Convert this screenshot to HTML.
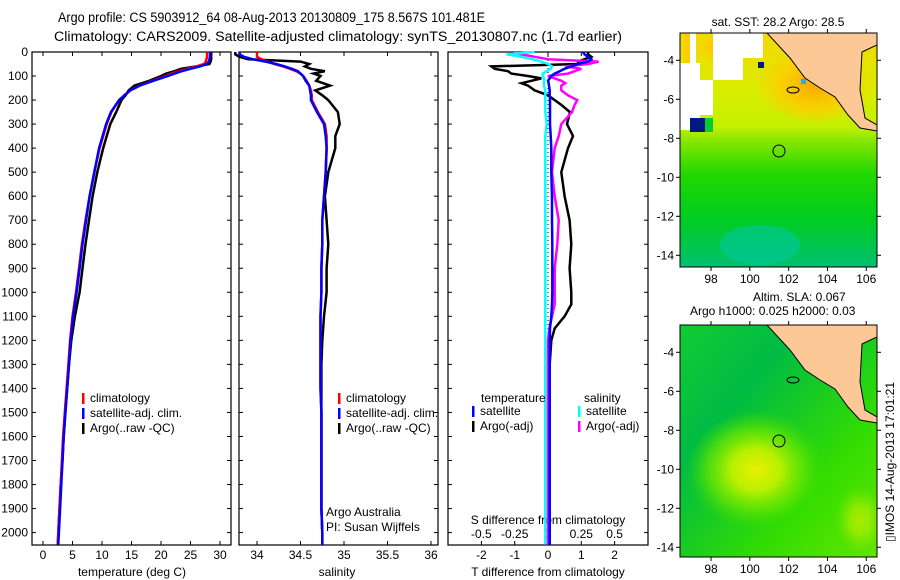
<!DOCTYPE html>
<html><head><meta charset="utf-8">
<style>
html,body{margin:0;padding:0;background:#fff;}
svg{display:block;font-family:"Liberation Sans",sans-serif;}
text{font-size:12px;fill:#000;}
</style></head>
<body>
<svg id="fig" width="900" height="580" viewBox="0 0 900 580" xmlns="http://www.w3.org/2000/svg">
  <text x="58" y="22" textLength="427" lengthAdjust="spacingAndGlyphs" style="font-size:13.5px">Argo profile: CS 5903912_64 08-Aug-2013 20130809_175 8.567S 101.481E</text>
  <text x="54" y="41" textLength="568" lengthAdjust="spacingAndGlyphs" style="font-size:13.5px">Climatology: CARS2009. Satellite-adjusted climatology: synTS_20130807.nc (1.7d earlier)</text>

  <defs>
    <linearGradient id="sstg" x1="0" y1="0" x2="0" y2="1">
      <stop offset="0" stop-color="#f4d800"/>
      <stop offset="0.25" stop-color="#d8ee00"/>
      <stop offset="0.4" stop-color="#c4f000"/>
      <stop offset="0.46" stop-color="#88e600"/>
      <stop offset="0.6" stop-color="#22d800"/>
      <stop offset="0.8" stop-color="#00cc22"/>
      <stop offset="1" stop-color="#00c070"/>
    </linearGradient>
    <radialGradient id="orng" cx="0.5" cy="0.5" r="0.5">
      <stop offset="0" stop-color="#f8a800"/>
      <stop offset="0.6" stop-color="#ffcc00" stop-opacity="0.8"/>
      <stop offset="1" stop-color="#ffcc00" stop-opacity="0"/>
    </radialGradient>
    <radialGradient id="slag" cx="0.5" cy="0.5" r="0.5">
      <stop offset="0" stop-color="#e8f000"/>
      <stop offset="0.35" stop-color="#b8f000"/>
      <stop offset="0.7" stop-color="#66e600" stop-opacity="0.7"/>
      <stop offset="1" stop-color="#33dd00" stop-opacity="0"/>
    </radialGradient>
    <linearGradient id="slabg" x1="0" y1="0" x2="1" y2="1">
      <stop offset="0" stop-color="#11cc33"/>
      <stop offset="0.3" stop-color="#00bb44"/>
      <stop offset="0.7" stop-color="#33dd00"/>
      <stop offset="1" stop-color="#66e600"/>
    </linearGradient>
    <clipPath id="m1c"><rect x="680" y="33" width="197" height="234"/></clipPath>
    <clipPath id="m2c"><rect x="680" y="325" width="197" height="232"/></clipPath>
  </defs>
  <g id="map1" clip-path="url(#m1c)">
    <rect x="680" y="33" width="197" height="234" fill="url(#sstg)"/>
    <ellipse cx="815" cy="85" rx="60" ry="40" fill="url(#orng)"/>
    <ellipse cx="725" cy="48" rx="30" ry="15" fill="url(#orng)"/>
    <rect x="684" y="33" width="6" height="30" fill="#ffcc00"/>
    <rect x="690" y="33" width="6" height="30" fill="#fff"/>
    <rect x="713" y="33" width="30" height="47" fill="#fff"/>
    <rect x="743" y="33" width="20" height="25" fill="#fff"/>
    <rect x="680" y="63" width="20" height="67" fill="#fff"/>
    <rect x="700" y="80" width="13" height="35" fill="#fff"/>
    <rect x="690" y="118" width="15" height="14" fill="#001a80"/>
    <rect x="705" y="118" width="8" height="14" fill="#00cc33"/>
    <rect x="758" y="62" width="6" height="6" fill="#001a80"/>
    <rect x="801" y="79" width="5" height="5" fill="#22aaff"/>
    <ellipse cx="760" cy="245" rx="40" ry="20" fill="#00c8a0" opacity="0.6"/>
    <path d="M767,33 L877,33 L877,45 L862,52 L860,90 L865,118 L877,125 L877,131 L860,128 L848,115 L835,97 L820,88 L805,78 L790,58 Z" fill="#fcc896" stroke="#000" stroke-width="1"/>
    <ellipse cx="793" cy="90" rx="6" ry="3" fill="none" stroke="#000"/>
    <circle cx="779" cy="151" r="6" fill="none" stroke="#000"/>
  </g>
  <rect x="680" y="33" width="197" height="234" fill="none" stroke="#000"/>
  <text x="778" y="26" text-anchor="middle">sat. SST: 28.2 Argo: 28.5</text>

  <g id="map2" clip-path="url(#m2c)">
    <rect x="680" y="325" width="197" height="232" fill="url(#slabg)"/>
    <ellipse cx="756" cy="470" rx="70" ry="60" fill="url(#slag)"/>
    <ellipse cx="860" cy="520" rx="30" ry="40" fill="url(#slag)" opacity="0.6"/>
    <path d="M767,325 L877,325 L877,337 L862,344 L860,382 L865,410 L877,417 L877,423 L860,420 L848,407 L835,389 L820,380 L805,370 L790,350 Z" fill="#fcc896" stroke="#000" stroke-width="1"/>
    <ellipse cx="793" cy="380" rx="6" ry="3" fill="none" stroke="#000"/>
    <circle cx="779" cy="441" r="6" fill="none" stroke="#000"/>
  </g>
  <rect x="680" y="325" width="197" height="232" fill="none" stroke="#000"/>
  <text x="753" y="301">Altim. SLA: 0.067</text>
  <text x="690" y="315">Argo h1000: 0.025 h2000: 0.03</text>
  <text transform="translate(894,462) rotate(-90)" text-anchor="middle">▯IMOS 14-Aug-2013 17:01:21</text>
  <g id="dyn"></g>
</svg>
<script>
const depthTS = [0,10,20,30,40,50,60,70,80,90,100,120,140,160,180,200,250,300,350,400,500,600,700,800,900,1000,1100,1200,1300,1400,1500,1600,1700,1800,1900,2000,2050];
const climT = [27.8,27.8,27.8,27.7,27.6,27.3,26,24.5,23,21.8,20.8,18.5,16.3,14.8,13.8,12.9,11.6,10.8,10.2,9.6,8.7,7.9,7.2,6.6,6.1,5.6,5.0,4.6,4.3,4.0,3.7,3.4,3.2,3.0,2.8,2.6,2.5];
const satT = [28.3,28.3,28.3,28.2,28.1,27.8,26.6,25,23.5,22.3,21.2,18.7,16.4,14.8,13.8,12.9,11.5,10.7,10.1,9.5,8.7,7.9,7.3,6.7,6.2,5.7,5.1,4.7,4.4,4.1,3.8,3.5,3.3,3.1,2.9,2.7,2.6];
const argoT = [28.5,28.5,28.5,28.5,28.4,28.2,26.0,23.4,22.3,20.9,20.0,18.0,15.5,14.5,14.0,13.3,12.4,11.4,10.8,10.2,9.2,8.4,7.8,7.2,6.7,6.2,5.4,4.8,4.4,4.1,3.8,3.5,3.3,3.0,2.8,2.6,2.5];
const climS = [34.0,34.0,34.0,34.05,34.12,34.2,34.3,34.38,34.45,34.5,34.53,34.57,34.6,34.62,34.63,34.63,34.7,34.78,34.8,34.8,34.79,34.77,34.75,34.75,34.74,34.74,34.73,34.73,34.73,34.73,34.74,34.74,34.74,34.74,34.74,34.75,34.75];
const satS = [33.8,33.8,33.85,33.95,34.1,34.22,34.32,34.4,34.47,34.5,34.53,34.56,34.6,34.61,34.62,34.62,34.69,34.77,34.79,34.8,34.79,34.77,34.75,34.75,34.74,34.74,34.73,34.73,34.73,34.73,34.74,34.74,34.74,34.74,34.74,34.75,34.75];
const argoS = [33.75,33.75,33.8,33.9,34.5,34.6,34.55,34.62,34.78,34.65,34.73,34.68,34.84,34.67,34.75,34.82,34.93,34.95,34.9,34.9,34.82,34.78,34.8,34.82,34.8,34.8,34.77,34.75,34.74,34.74,34.74,34.74,34.74,34.74,34.74,34.75,34.75];
const depthDiff = [0,10,20,30,40,50,60,70,80,90,100,110,120,130,140,160,180,200,220,250,300,350,400,500,600,700,800,900,1000,1050,1100,1150,1200,1300,1400,1600,1800,2000,2050];
const dTargo = [1.2,1.2,1.3,1.1,0.9,0.9,-1.7,-1.6,-1.2,-1.1,-0.6,-0.2,-0.5,-0.8,-0.6,-0.4,0,0.2,0.4,0.66,0.57,0.75,0.6,0.4,0.5,0.65,0.7,0.65,0.7,0.7,0.5,0.2,0.1,0.05,0.05,0.05,0.05,0.05,0.05];
const dTsat = [1.05,1.1,1.2,1.3,1.2,0.9,0.7,0.5,0.35,0.2,0.1,0.05,0,0.02,0.03,0.05,0.05,0.06,0.06,0.06,0.06,0.08,0.1,0.1,0.12,0.12,0.13,0.13,0.13,0.12,0.1,0.06,0.05,0.05,0.05,0.05,0.05,0.05,0.05];
const dSargo = [-0.26,-0.2,-0.1,0,0.38,0.3,0.13,0.25,0.2,0.15,0,0.05,0.1,0.13,0.1,0.1,0.15,0.22,0.2,0.18,0.1,0.08,0.05,0.03,0.05,0.08,0.07,0.05,0.05,0.05,0.03,0.01,0,0,0,0,0,0,0];
const dSsat = [-0.1,-0.31,-0.2,-0.12,-0.05,0,0.03,0.02,-0.01,-0.04,-0.04,-0.03,-0.03,-0.03,-0.03,-0.02,-0.02,-0.02,-0.02,-0.02,-0.01,-0.02,-0.02,-0.02,-0.02,-0.02,-0.02,-0.02,-0.02,-0.02,-0.02,-0.02,-0.02,-0.02,-0.02,-0.02,-0.02,-0.02,-0.02];
const depthTicks = [0,100,200,300,400,500,600,700,800,900,1000,1100,1200,1300,1400,1500,1600,1700,1800,1900,2000];
const tempTicks = [0,5,10,15,20,25,30];
const salTicks = [34,34.5,35,35.5,36];
const tDiffTicks = [-2,-1,0,1,2];
const sDiffTicks = [-0.5,-0.25,0,0.25,0.5];
const sDiffTickLabels = ["-0.5","-0.25","0","0.25","0.5"];
const mapLatTicks = [-4,-6,-8,-10,-12,-14];
const mapLonTicks = [98,100,102,104,106];

const NS = "http://www.w3.org/2000/svg";
const root = document.getElementById('dyn');
function mk(tag, attrs, parent){ const e=document.createElementNS(NS,tag); for(const k in attrs) e.setAttribute(k,attrs[k]); (parent||root).appendChild(e); return e; }
const TOP=52, BOT=545;
const yD = d => TOP + d*0.2403;
const xT = t => 43 + t*5.9;
const xS = s => 257 + (s-34)*87;
const xDT = t => 548 + t*33.3;
const xDS = s => 548 + s*133.2;
const panels = [[32,231],[239,438],[448,648]];

function frame(i,name){
  const [l,r]=panels[i];
  const g=mk('g',{});
  
  
  mk('rect',{x:l,y:TOP,width:r-l,height:BOT-TOP,fill:'none',stroke:'#000','stroke-width':1.2},g);
  depthTicks.forEach(d=>{
    mk('line',{x1:l,x2:l+4,y1:yD(d),y2:yD(d),stroke:'#000'},g);
    mk('line',{x1:r,x2:r-4,y1:yD(d),y2:yD(d),stroke:'#000'},g);
  });
  return g;
}
function series(g, xs, ds, fx, color, name, w){
  const pts = ds.map((d,i)=>fx(xs[i]).toFixed(1)+','+yD(d).toFixed(1)).join(' ');
  const p = mk('polyline',{points:pts,fill:'none',stroke:color,'stroke-width':w||2.5,'stroke-linejoin':'miter'},g);
  
  
}
function txt(g,x,y,s,anchor,name){
  const t=mk('text',{x:x,y:y,'text-anchor':anchor||'start'},g); t.textContent=s;
  
  
  return t;
}
function legend(g,x,y,color,label,name){
  mk('rect',{x:x,y:y-9,width:2.5,height:11,fill:color},g);
  txt(g,x+8,y,label,'start',name);
}

const g1 = frame(0,'temperature-panel');
depthTicks.forEach(d=>{ txt(g1,28,yD(d)+4,String(d),'end','depth-tick-label'); });
tempTicks.forEach(t=>{ mk('line',{x1:xT(t),x2:xT(t),y1:BOT,y2:BOT-4,stroke:'#000'},g1); mk('line',{x1:xT(t),x2:xT(t),y1:TOP,y2:TOP+4,stroke:'#000'},g1); txt(g1,xT(t),559,String(t),'middle','temp-tick-label'); });
txt(g1,132,576,'temperature (deg C)','middle','temperature-axis-title');
series(g1,argoT,depthTS,xT,'#000','argo-temperature-line');
series(g1,climT,depthTS,xT,'#f00','clim-temperature-line');
series(g1,satT,depthTS,xT,'#00f','sat-temperature-line');
legend(g1,82,402,'#f00','climatology','legend-climatology');
legend(g1,82,417,'#00f','satellite-adj. clim.','legend-satellite');
legend(g1,82,432,'#000','Argo(..raw -QC)','legend-argo');

const g2 = frame(1,'salinity-panel');
salTicks.forEach(s=>{ mk('line',{x1:xS(s),x2:xS(s),y1:BOT,y2:BOT-4,stroke:'#000'},g2); mk('line',{x1:xS(s),x2:xS(s),y1:TOP,y2:TOP+4,stroke:'#000'},g2); txt(g2,xS(s),559,String(s),'middle','salinity-tick-label'); });
txt(g2,337,576,'salinity','middle','salinity-axis-title');
series(g2,argoS,depthTS,xS,'#000','argo-salinity-line');
series(g2,climS,depthTS,xS,'#f00','clim-salinity-line');
series(g2,satS,depthTS,xS,'#00f','sat-salinity-line');
legend(g2,338,402,'#f00','climatology','legend-climatology');
legend(g2,338,417,'#00f','satellite-adj. clim.','legend-satellite');
legend(g2,338,432,'#000','Argo(..raw -QC)','legend-argo');
txt(g2,326,516,'Argo Australia','start','credit-line-1');
txt(g2,326,531,'PI: Susan Wijffels','start','credit-line-2');

const g3 = frame(2,'difference-panel');
tDiffTicks.forEach(t=>{ mk('line',{x1:xDT(t),x2:xDT(t),y1:BOT,y2:BOT-4,stroke:'#000'},g3); mk('line',{x1:xDT(t),x2:xDT(t),y1:TOP,y2:TOP+4,stroke:'#000'},g3); txt(g3,xDT(t),559,String(t),'middle','tdiff-tick-label'); });
sDiffTicks.forEach((s,i)=>{ txt(g3,xDS(s),538,sDiffTickLabels[i],'middle','sdiff-tick-label'); });
txt(g3,548,524,'S difference from climatology','middle','sdiff-axis-title');
txt(g3,548,576,'T difference from climatology','middle','tdiff-axis-title');
mk('line',{x1:xDT(0),x2:xDT(0),y1:TOP,y2:BOT,stroke:'#000','stroke-dasharray':'1,3'},g3);
series(g3,dTargo,depthDiff,xDT,'#000','argo-tdiff-line');
series(g3,dSargo,depthDiff,xDS,'#f0f','argo-sdiff-line');
series(g3,dTsat,depthDiff,xDT,'#00f','sat-tdiff-line');
series(g3,dSsat,depthDiff,xDS,'#0ff','sat-sdiff-line');
txt(g3,481,402,'temperature','start','legend-temperature-heading');
legend(g3,472,415,'#00f','satellite','legend-t-satellite');
legend(g3,472,430,'#000','Argo(-adj)','legend-t-argo');
txt(g3,584,402,'salinity','start','legend-salinity-heading');
legend(g3,578,415,'#0ff','satellite','legend-s-satellite');
legend(g3,578,430,'#f0f','Argo(-adj)','legend-s-argo');

function mapAxes(top, name){
  const g=mk('g',{});
  
  
  const yL = lat => top + (-2.6-lat)*19.5;
  const xL = lon => 680 + (lon-96.4)*19.4;
  mapLatTicks.forEach(la=>{ mk('line',{x1:680,x2:676,y1:yL(la),y2:yL(la),stroke:'#000'},g); mk('line',{x1:877,x2:881,y1:yL(la),y2:yL(la),stroke:'#000'},g); txt(g,674,yL(la)+4,String(la),'end','lat-tick-label'); });
  const bot = top===33?267:557;
  mapLonTicks.forEach(lo=>{ mk('line',{x1:xL(lo),x2:xL(lo),y1:bot,y2:bot+4,stroke:'#000'},g); mk('line',{x1:xL(lo),x2:xL(lo),y1:top,y2:top-4,stroke:'#000'},g); txt(g,xL(lo),bot+16,String(lo),'middle','lon-tick-label'); });
}
mapAxes(33,'sst-map-axes');
mapAxes(325,'sla-map-axes');
</script>
</body></html>
